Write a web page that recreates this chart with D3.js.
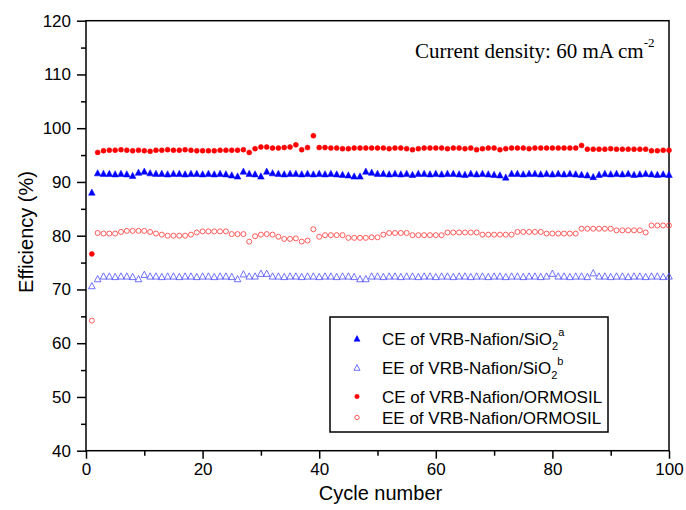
<!DOCTYPE html>
<html>
<head>
<meta charset="utf-8">
<script src="https://cdn.jsdelivr.net/npm/d3@7"></script>
<style>
  html, body { margin: 0; padding: 0; background: #fff; }
  svg { display: block; }
</style>
</head>
<body>
<svg id="chart" width="686" height="510"></svg>
<script>
// ---------- DATA ----------
const cycles = [1,2,3,4,5,6,7,8,9,10,11,12,13,14,15,16,17,18,19,20,
  21,22,23,24,25,26,27,28,29,30,31,32,33,34,35,36,37,38,39,40,
  41,42,43,44,45,46,47,48,49,50,51,52,53,54,55,56,57,58,59,60,
  61,62,63,64,65,66,67,68,69,70,71,72,73,74,75,76,77,78,79,80,
  81,82,83,84,85,86,87,88,89,90,91,92,93,94,95,96,97,98,99,100];

const ceSiO2 = [88.0,91.6,91.5,91.5,91.4,91.5,91.4,91.1,91.7,91.9,
  91.6,91.5,91.5,91.4,91.5,91.5,91.4,91.5,91.5,91.4,
  91.5,91.4,91.5,91.4,91.2,91.0,91.9,91.5,91.4,91.0,
  91.9,91.6,91.5,91.4,91.5,91.5,91.4,91.5,91.4,91.5,
  91.4,91.5,91.4,91.3,91.2,91.0,91.0,91.9,91.7,91.5,
  91.5,91.4,91.5,91.4,91.5,91.3,91.5,91.5,91.4,91.5,
  91.4,91.5,91.5,91.4,91.3,91.5,91.4,91.5,91.4,91.3,
  91.2,90.8,91.5,91.5,91.4,91.5,91.5,91.4,91.5,91.4,
  91.5,91.4,91.5,91.4,91.3,91.2,90.9,91.3,91.5,91.4,
  91.5,91.4,91.5,91.3,91.4,91.5,91.4,91.3,91.4,91.3];

const eeSiO2 = [70.6,71.9,72.4,72.4,72.3,72.4,72.4,72.3,71.9,72.7,
  72.4,72.4,72.3,72.4,72.4,72.3,72.4,72.4,72.3,72.4,
  72.4,72.3,72.4,72.4,72.3,71.9,72.8,72.4,72.4,72.9,
  72.9,72.4,72.4,72.3,72.4,72.4,72.3,72.4,72.4,72.3,
  72.4,72.4,72.3,72.4,72.4,72.3,71.9,71.9,72.4,72.4,
  72.3,72.4,72.4,72.3,72.4,72.4,72.3,72.4,72.4,72.3,
  72.4,72.4,72.3,72.4,72.4,72.3,72.4,72.4,72.3,72.4,
  72.4,72.3,72.4,72.4,72.3,72.4,72.4,72.3,72.4,72.9,
  72.4,72.4,72.3,72.4,72.4,72.3,73.0,72.4,72.4,72.3,
  72.4,72.4,72.3,72.4,72.4,72.3,72.4,72.4,72.3,72.4];

const ceORMOSIL = [76.6,95.5,95.8,95.9,95.9,96.0,95.9,95.8,95.9,95.8,
  95.7,95.9,95.9,96.0,95.9,95.9,96.0,95.9,95.8,95.8,
  95.8,95.8,95.9,95.9,95.9,95.9,96.0,95.5,96.2,96.5,
  96.5,96.3,96.3,96.4,96.5,96.9,96.0,96.4,98.6,96.4,
  96.4,96.3,96.3,96.2,96.2,96.3,96.3,96.3,96.3,96.3,
  96.3,96.2,96.3,96.3,96.2,96.0,96.2,96.3,96.3,96.3,
  96.3,96.2,96.3,96.3,96.2,96.3,96.0,96.2,96.3,96.3,
  96.0,96.2,96.3,96.3,96.3,96.2,96.3,96.3,96.3,96.3,
  96.3,96.3,96.3,96.3,96.8,96.1,96.1,96.1,96.1,96.2,
  96.1,96.1,96.1,96.1,96.1,96.1,95.8,95.8,95.9,95.9];

const eeORMOSIL = [64.2,80.5,80.4,80.4,80.4,80.7,80.9,80.9,80.9,80.9,
  80.7,80.4,80.2,80.0,80.0,80.0,80.0,80.2,80.6,80.8,
  80.8,80.8,80.8,80.8,80.3,80.3,80.3,78.9,79.9,80.2,
  80.3,80.2,79.8,79.4,79.4,79.5,78.9,79.1,81.2,79.8,
  80.1,80.1,80.1,80.1,79.6,79.6,79.6,79.6,79.7,79.7,
  80.2,80.5,80.5,80.5,80.5,80.1,80.1,80.1,80.1,80.1,
  80.1,80.6,80.6,80.6,80.6,80.6,80.6,80.2,80.2,80.2,
  80.2,80.2,80.2,80.7,80.7,80.7,80.7,80.7,80.4,80.4,
  80.4,80.4,80.4,80.4,81.3,81.3,81.3,81.3,81.3,81.3,
  81.0,81.0,81.0,81.0,81.0,80.6,81.9,81.9,81.9,81.9];

const xTicks = [0,20,40,60,80,100];
const xMinor = [10,30,50,70,90];
const yTicks = [40,50,60,70,80,90,100,110,120];
const yMinor = [45,55,65,75,85,95,105,115];

const legendLabels = [
  {main: "CE of VRB-Nafion/SiO", sub: "2", sup: "a"},
  {main: "EE of VRB-Nafion/SiO", sub: "2", sup: "b"},
  {main: "CE of VRB-Nafion/ORMOSIL"},
  {main: "EE of VRB-Nafion/ORMOSIL"}
];

// ---------- CHART ----------
const svg = d3.select("#chart");
svg.append("rect").attr("width", 686).attr("height", 510).attr("fill", "#fff");

const L = 86, R = 669, T = 20.7, B = 450.7;
const x = d3.scaleLinear().domain([0, 100]).range([L, R]);
const y = d3.scaleLinear().domain([40, 120]).range([B, T]);

const sans = "'Liberation Sans', Arial, sans-serif";
const serif = "'Liberation Serif', 'Times New Roman', serif";

// Axes
const xAxis = svg.append("g").attr("transform", `translate(0,${B})`)
  .call(d3.axisBottom(x).tickValues(xTicks).tickSize(8).tickPadding(4).tickFormat(d3.format("d")));
const xAxisMinor = svg.append("g").attr("transform", `translate(0,${B})`)
  .call(d3.axisBottom(x).tickValues(xMinor).tickSize(5).tickFormat(""));
const yAxis = svg.append("g").attr("transform", `translate(${L},0)`)
  .call(d3.axisLeft(y).tickValues(yTicks).tickSize(9).tickPadding(6).tickFormat(d3.format("d")));
const yAxisMinor = svg.append("g").attr("transform", `translate(${L},0)`)
  .call(d3.axisLeft(y).tickValues(yMinor).tickSize(5).tickFormat(""));

[xAxis, xAxisMinor, yAxis, yAxisMinor].forEach(g => {
  g.select(".domain").remove();
  g.selectAll(".tick line").attr("stroke", "#000").attr("stroke-width", 1.5);
  g.selectAll(".tick text").attr("font-family", sans).attr("font-size", 17).attr("fill", "#000");
});

// Frame
svg.append("rect").attr("x", L).attr("y", T).attr("width", R - L).attr("height", B - T)
  .attr("fill", "none").attr("stroke", "#000").attr("stroke-width", 1.5);

// Axis titles
svg.append("text").attr("x", (L + R) / 2 + 3).attr("y", 500)
  .attr("text-anchor", "middle").attr("font-family", sans).attr("font-size", 20)
  .text("Cycle number");
svg.append("text").attr("transform", `translate(33,232) rotate(-90)`)
  .attr("text-anchor", "middle").attr("font-family", sans).attr("font-size", 20)
  .text("Efficiency (%)");

// Markers
const triUp = s => `M0,${-s*0.62}L${s*0.55},${s*0.42}L${-s*0.55},${s*0.42}Z`;

function drawTriangles(data, filled, color, size) {
  svg.append("g").selectAll("path").data(data).join("path")
    .attr("transform", (d, i) => `translate(${x(cycles[i])},${y(d)})`)
    .attr("d", triUp(size))
    .attr("fill", filled ? color : "none")
    .attr("stroke", color).attr("stroke-width", filled ? 0.5 : 0.8);
}
function drawCircles(data, filled, color, r) {
  svg.append("g").selectAll("circle").data(data).join("circle")
    .attr("cx", (d, i) => x(cycles[i])).attr("cy", d => y(d)).attr("r", r)
    .attr("fill", filled ? color : "none")
    .attr("stroke", color).attr("stroke-width", filled ? 0.5 : 0.8);
}

drawTriangles(eeSiO2, false, "#4d4dff", 6);
drawCircles(eeORMOSIL, false, "#ff3333", 2.5);
drawTriangles(ceSiO2, true, "#0000ff", 6);
drawCircles(ceORMOSIL, true, "#ff0000", 2.5);

// Annotation
const ann = svg.append("text").attr("x", 415).attr("y", 58)
  .attr("font-family", serif).attr("font-size", 21).attr("fill", "#000");
ann.append("tspan").text("Current density: 60 mA cm");
ann.append("tspan").attr("dy", -11).attr("font-size", 13).text("-2");

// Legend
svg.append("rect").attr("x", 330).attr("y", 317).attr("width", 278).attr("height", 115)
  .attr("fill", "#fff").attr("stroke", "#000").attr("stroke-width", 1.5);

const legRowsY = [339, 368, 396.5, 417.5];
const legStyles = [
  {shape: "tri", filled: true, color: "#0000ff"},
  {shape: "tri", filled: false, color: "#4d4dff"},
  {shape: "circ", filled: true, color: "#ff0000"},
  {shape: "circ", filled: false, color: "#ff3333"}
];
legendLabels.forEach((lab, i) => {
  const cy = legRowsY[i];
  const st = legStyles[i];
  if (st.shape === "tri") {
    svg.append("path").attr("transform", `translate(357,${cy})`).attr("d", triUp(5.5))
      .attr("fill", st.filled ? st.color : "none").attr("stroke", st.color)
      .attr("stroke-width", st.filled ? 0.5 : 0.8);
  } else {
    svg.append("circle").attr("cx", 357).attr("cy", cy).attr("r", 2.2)
      .attr("fill", st.filled ? st.color : "none").attr("stroke", st.color)
      .attr("stroke-width", st.filled ? 0.5 : 0.8);
  }
  const t = svg.append("text").attr("x", 382).attr("y", cy + 6)
    .attr("font-family", sans).attr("font-size", 17).attr("fill", "#000");
  t.append("tspan").text(lab.main);
  if (lab.sub) {
    t.append("tspan").attr("dy", 5).attr("font-size", 11).text(lab.sub);
    t.append("tspan").attr("dy", -14).attr("font-size", 11).text(lab.sup);
  }
});
</script>
</body>
</html>
